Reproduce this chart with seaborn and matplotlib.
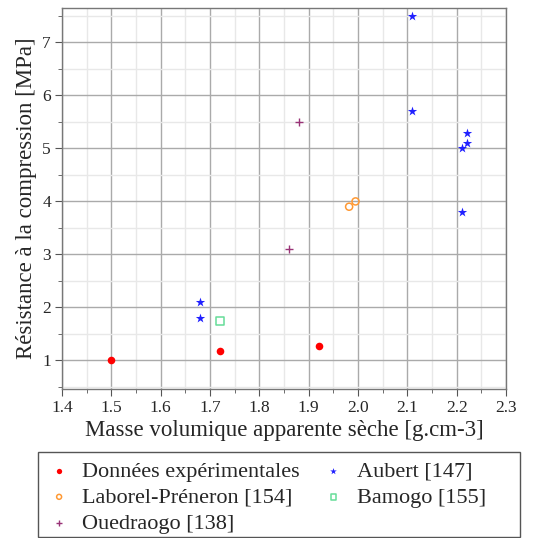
import matplotlib
matplotlib.use('Agg')
import matplotlib.pyplot as plt
import seaborn as sns
import pandas as pd
from matplotlib.ticker import MultipleLocator, FormatStrFormatter
from matplotlib.patches import Rectangle

# data
exp_x = [1.50, 1.72, 1.92]
exp_y = [1.00, 1.17, 1.28]
aubert_x = [1.68, 1.68, 2.11, 2.11, 2.21, 2.22, 2.22, 2.21]
aubert_y = [2.10, 1.80, 7.50, 5.70, 5.00, 5.10, 5.30, 3.80]
laborel_x = [1.982, 1.995]
laborel_y = [3.90, 4.00]
bamogo_x = [1.72]
bamogo_y = [1.74]
oued_x = [1.86, 1.88]
oued_y = [3.10, 5.50]

sns.set_style('white')
plt.rcParams['font.family'] = ['Liberation Serif', 'DejaVu Serif']

W, H = 548, 538
fig = plt.figure(figsize=(W / 100, H / 100), dpi=100)
ax = fig.add_axes([62 / W, 1 - 389 / H, (506 - 62) / W, (389 - 8) / H])

series = [
    ('Données expérimentales', exp_x, exp_y, 'o', '#ff0000', True, 30),
    ('Laborel-Préneron [154]', laborel_x, laborel_y, 'o', '#ff9933', False, 26),
    ('Ouedraogo [138]', oued_x, oued_y, '+', '#993377', True, 40),
    ('Aubert [147]', aubert_x, aubert_y, '*', '#2020ff', True, 50),
    ('Bamogo [155]', bamogo_x, bamogo_y, 's', '#66dd99', False, 34),
]

for name, xs, ys, mk, col, filled, size in series:
    df = pd.DataFrame({'x': xs, 'y': ys})
    if filled:
        sns.scatterplot(data=df, x='x', y='y', ax=ax, marker=mk, color=col,
                        s=size, linewidth=1 if mk == '+' else 0, label=name)
    else:
        sns.scatterplot(data=df, x='x', y='y', ax=ax, marker=mk, s=size,
                        facecolor='none', edgecolor=col, linewidth=1.1, label=name)

ax.set_xlim(1.4, 2.3)
ax.set_ylim(0.46, 7.65)
ax.xaxis.set_major_locator(MultipleLocator(0.1))
ax.xaxis.set_minor_locator(MultipleLocator(0.05))
ax.yaxis.set_major_locator(MultipleLocator(1))
ax.yaxis.set_minor_locator(MultipleLocator(0.5))
ax.xaxis.set_major_formatter(FormatStrFormatter('%.1f'))

ax.grid(which='major', color='#aaaaaa', linewidth=1.0)
ax.grid(which='minor', color='#e8e8e8', linewidth=1.0)
ax.set_axisbelow(True)
for sp in ax.spines.values():
    sp.set_color('#777777')
    sp.set_linewidth(1.0)
ax.tick_params(which='both', direction='out', color='#555555', left=True, bottom=True)
ax.tick_params(which='major', length=5, labelsize=12.5, pad=3)
ax.tick_params(which='minor', length=3)

ax.set_xlabel('Masse volumique apparente sèche [g.cm-3]', fontsize=16.5, labelpad=3)
ax.set_ylabel('Résistance à la compression [MPa]', fontsize=16.5, labelpad=4)

h, l = ax.get_legend_handles_labels()
ax.legend_.remove()
leg = fig.legend(h, l, ncol=2, loc='upper left',
                 bbox_to_anchor=(38 / W, 1 - 451 / H),
                 fontsize=16, frameon=False,
                 handlelength=1.0, handletextpad=0.55, columnspacing=1.0,
                 borderaxespad=0, borderpad=0.45, labelspacing=0.25,
                 markerscale=0.7)

# legend box drawn separately, it is wider than the entries
fig.patches.append(Rectangle((38 / W, 1 - 537 / H), (520 - 38) / W, (537 - 452) / H,
                             transform=fig.transFigure, fill=False,
                             edgecolor='#555555', linewidth=1.0))

fig.savefig('out.png', dpi=100)
